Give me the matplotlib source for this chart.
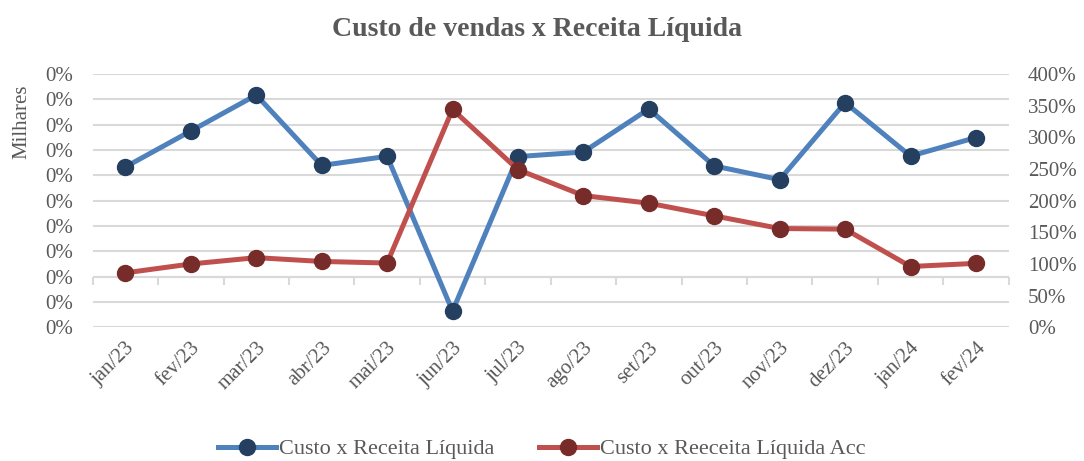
import matplotlib.pyplot as plt
import numpy as np
from matplotlib.lines import Line2D

plt.rcParams['font.family'] = ['Liberation Serif', 'DejaVu Serif']

months = ['jan/23', 'fev/23', 'mar/23', 'abr/23', 'mai/23', 'jun/23', 'jul/23',
          'ago/23', 'set/23', 'out/23', 'nov/23', 'dez/23', 'jan/24', 'fev/24']
# left axis (milhares, labels all round to 0%)
custo_receita = [4.33, 5.75, 7.17, 4.39, 4.75, -1.36, 4.74,
                 4.92, 6.62, 4.37, 3.83, 6.87, 4.76, 5.49]
# right axis, percent
custo_receita_acc = [86, 100, 110, 104, 101.5, 344, 249,
                     208, 196, 176, 156, 155, 96, 101]

grey = '#595959'
grid_c = '#d9d9d9'
blue_line, blue_mk = '#4f81bd', '#243f60'
red_line, red_mk = '#c0504d', '#772c2a'

fig = plt.figure(figsize=(10.84, 4.61), dpi=100)
ax = fig.add_axes([0.0855, 0.29, 0.845, 0.5495])
ax2 = ax.twinx()

x = np.arange(len(months))

ax.plot(x, custo_receita, color=blue_line, lw=3.6, marker='o', ms=11.5,
        mfc=blue_mk, mec=blue_mk, zorder=3)
ax2.plot(x, custo_receita_acc, color=red_line, lw=3.6, marker='o', ms=11.5,
         mfc=red_mk, mec=red_mk, zorder=3)

ax.set_xlim(-0.5, len(months) - 0.5)
ax.set_ylim(-2, 8)
ax.set_yticks(np.arange(-2, 9, 1))
ax.set_yticklabels(['0%'] * 11)
ax.yaxis.grid(True, color=grid_c, lw=1.5)
ax.set_axisbelow(True)

ax2.set_ylim(0, 400)
ax2.set_yticks(np.arange(0, 401, 50))
ax2.set_yticklabels([f'{v}%' for v in range(0, 401, 50)])

for a in (ax, ax2):
    for s in a.spines.values():
        s.set_visible(False)

fs = 15
ax.set_xticks(x)
ax.set_xticklabels(months, rotation=45, ha='right', rotation_mode='anchor')
ax.tick_params(axis='x', length=0, pad=8, labelsize=fs, labelcolor=grey)
ax.tick_params(axis='y', length=0, pad=14, labelsize=fs, labelcolor=grey)
ax2.tick_params(axis='y', length=0, pad=14, labelsize=fs, labelcolor=grey)

# category axis crossing at zero with tick marks between categories
ax.axhline(0, color=grid_c, lw=1.5, zorder=1)
sec = ax.secondary_xaxis(0.2)
sec.set_xticks(np.arange(-0.5, len(months), 1))
sec.set_xticklabels([])
sec.tick_params(axis='x', length=6, width=1.5, color=grid_c, direction='out')
sec.spines['bottom'].set_visible(False)

fig.text(0.495, 0.935, 'Custo de vendas x Receita Líquida', ha='center', va='center',
         fontsize=20, fontweight='bold', color=grey)
fig.text(0.02, 1 - 122 / 461, 'Milhares', rotation=90, ha='center', va='center',
         fontsize=fs, color=grey)

handles = [
    Line2D([], [], color=blue_line, lw=3.6, marker='o', ms=11.5, mfc=blue_mk, mec=blue_mk),
    Line2D([], [], color=red_line, lw=3.6, marker='o', ms=11.5, mfc=red_mk, mec=red_mk),
]
fig.legend(handles, ['Custo x Receita Líquida', 'Custo x Reeceita Líquida Acc'],
           loc='center', bbox_to_anchor=(0.5, 0.026), ncol=2, frameon=False,
           fontsize=16, labelcolor=grey, handlelength=2.6, handletextpad=0.15,
           columnspacing=2.0)

fig.savefig('out.png', dpi=100)
